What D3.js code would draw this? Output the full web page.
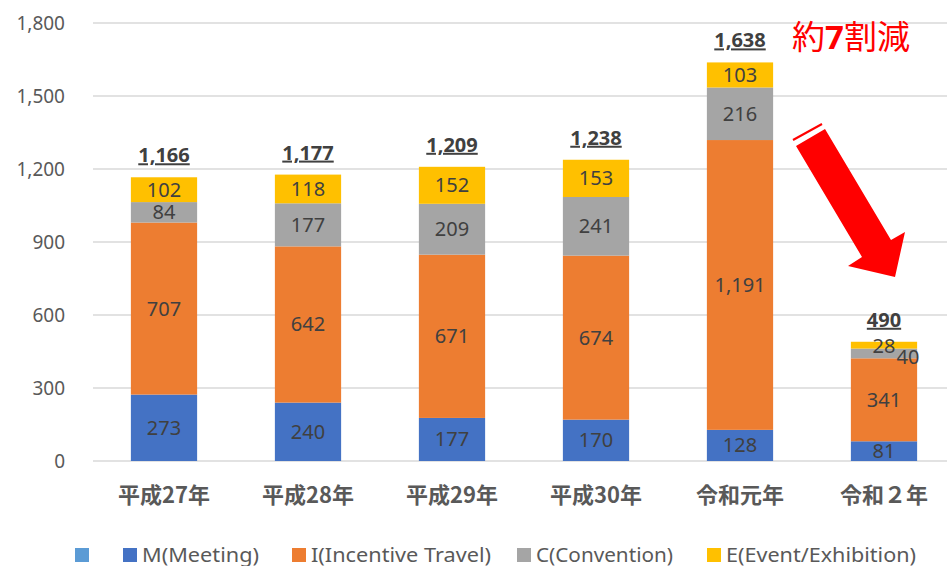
<!DOCTYPE html>
<html>
<head>
<meta charset="utf-8">
<script src="https://cdn.jsdelivr.net/npm/d3@7"></script>
<style>
body { margin: 0; background: #fff; }
svg { font-family: "Noto Sans CJK JP", "Noto Sans", sans-serif; }
</style>
</head>
<body>
<svg id="chart" width="947" height="566"></svg>
<script>
// data
const years = ["平成27年", "平成28年", "平成29年", "平成30年", "令和元年", "令和２年"];
const meeting = [273, 240, 177, 170, 128, 81];
const incentive = [707, 642, 671, 674, 1191, 341];
const convention = [84, 177, 209, 241, 216, 40];
const exhibition = [102, 118, 152, 153, 103, 28];
const totals = [1166, 1177, 1209, 1238, 1638, 490];
const yTicks = [0, 300, 600, 900, 1200, 1500, 1800];

const seriesKeys = ["M", "I", "C", "E"];
const seriesNames = ["M(Meeting)", "I(Incentive Travel)", "C(Convention)", "E(Event/Exhibition)"];
const colors = ["#4472C4", "#ED7D31", "#A5A5A5", "#FFC000"];

let rows = years.map((y, i) => ({ year: y, M: meeting[i], I: incentive[i], C: convention[i], E: exhibition[i], total: totals[i] }));

let chart = d3.select("#chart");

let xScale = d3.scaleBand()
    .domain(years)
    .range([92, 956])
    .paddingInner(0.54)
    .paddingOuter(0.27);

let yScale = d3.scaleLinear()
    .domain([0, 1800])
    .range([461, 23]);

// gridlines
chart.append("g")
    .selectAll("line")
    .data(yTicks).enter()
        .append("line")
            .attr("x1", 93)
            .attr("x2", 947)
            .attr("y1", d => yScale(d))
            .attr("y2", d => yScale(d))
            .attr("stroke", "#d9d9d9")
            .attr("stroke-width", 1.3);

// y labels
chart.append("g")
    .selectAll("text")
    .data(yTicks).enter()
        .append("text")
            .text(d => d3.format(",")(d))
            .attr("x", 65)
            .attr("y", d => yScale(d) + 7)
            .attr("text-anchor", "end")
            .attr("font-family", "'Noto Sans', sans-serif")
            .attr("font-size", 19)
            .attr("fill", "#595959");

let stacked = d3.stack().keys(seriesKeys)(rows);

let layers = chart.selectAll("g.layer")
    .data(stacked).enter()
        .append("g")
            .attr("class", "layer")
            .attr("fill", (d, i) => colors[i]);

layers.selectAll("rect")
    .data(d => d).enter()
        .append("rect")
            .attr("x", d => xScale(d.data.year))
            .attr("y", d => yScale(d[1]))
            .attr("width", xScale.bandwidth())
            .attr("height", d => yScale(d[0]) - yScale(d[1]));

// segment labels
stacked.forEach((layer, si) => {
    chart.append("g")
        .selectAll("text")
        .data(layer).enter()
            .append("text")
                .text(d => d3.format(",")(d.data[seriesKeys[si]]))
                .attr("x", d => {
                    let cx = xScale(d.data.year) + xScale.bandwidth() / 2;
                    if (d.data.year === "令和２年" && seriesKeys[si] === "C") cx += 24;
                    return cx;
                })
                .attr("y", d => {
                    let cy = (yScale(d[0]) + yScale(d[1])) / 2;
                    if (d.data.year === "令和２年" && seriesKeys[si] === "C") cy = 357;
                    if (d.data.year === "令和２年" && seriesKeys[si] === "E") cy = 346;
                    return cy + 7;
                })
                .attr("text-anchor", "middle")
                .attr("font-family", "'Noto Sans', sans-serif")
                .attr("font-size", 20)
                .attr("fill", "#404040");
});

// totals
chart.append("g")
    .selectAll("text")
    .data(rows).enter()
        .append("text")
            .text(d => d3.format(",")(d.total))
            .attr("x", d => xScale(d.year) + xScale.bandwidth() / 2)
            .attr("y", d => yScale(d.total) - 15)
            .attr("text-anchor", "middle")
            .attr("font-family", "'Noto Sans', sans-serif")
            .attr("font-size", 20)
            .attr("font-weight", "bold")
            .attr("text-decoration", "underline")
            .attr("fill", "#404040");

// x labels
chart.append("g")
    .selectAll("text")
    .data(years).enter()
        .append("text")
            .text(d => d)
            .attr("x", d => xScale(d) + xScale.bandwidth() / 2)
            .attr("y", 503)
            .attr("text-anchor", "middle")
            .attr("font-size", 22)
            .attr("font-weight", "bold")
            .attr("fill", "#595959");

// legend
let legendX = [123, 292, 517, 707];
let legendLen = [117, 180, 137, 190];
chart.append("rect")
    .attr("x", 75).attr("y", 548).attr("width", 14).attr("height", 14)
    .attr("fill", "#5B9BD5");
let legend = chart.append("g")
    .selectAll("g")
    .data(seriesNames).enter()
        .append("g")
            .attr("transform", (d, i) => "translate(" + legendX[i] + ",548)");
legend.append("rect")
    .attr("width", 14).attr("height", 14)
    .attr("fill", (d, i) => colors[i]);
legend.append("text")
    .text(d => d)
    .attr("x", 19)
    .attr("y", 14)
    .attr("font-family", "'Noto Sans', sans-serif")
    .attr("font-size", 20)
    .attr("textLength", (d, i) => legendLen[i])
    .attr("lengthAdjust", "spacingAndGlyphs")
    .attr("fill", "#595959");

// annotation
let note = chart.append("text")
    .attr("x", 792)
    .attr("y", 49)
    .attr("font-size", 33)
    .attr("fill", "#FF0000");
note.append("tspan").text("約");
note.append("tspan").text("7").attr("font-weight", "bold").attr("font-family", "'Noto Sans', sans-serif");
note.append("tspan").text("割減");

chart.append("line")
    .attr("x1", 793).attr("y1", 140)
    .attr("x2", 822).attr("y2", 124)
    .attr("stroke", "#FF0000")
    .attr("stroke-width", 2);

chart.append("path")
    .attr("d", "M796,146 L825,129 L891,240 L905,232 L895,277 L848,266 L862,257 Z")
    .attr("fill", "#FF0000");
</script>
</body>
</html>
